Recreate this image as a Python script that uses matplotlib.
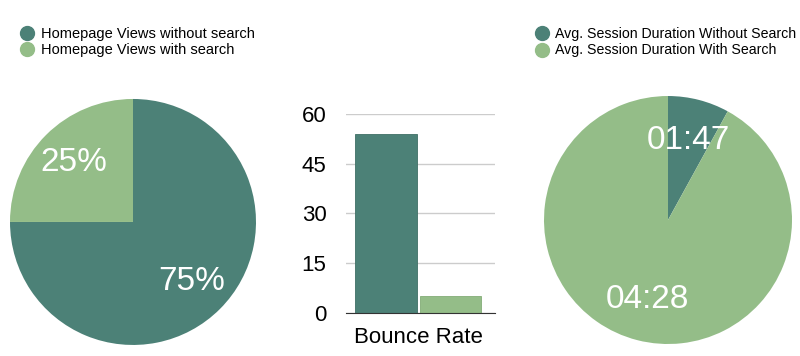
import matplotlib
matplotlib.use("Agg")
import matplotlib.pyplot as plt
from matplotlib.lines import Line2D

plt.rcParams['font.family'] = ['Liberation Sans', 'DejaVu Sans']

dark = '#4c8177'
light = '#94bd88'

# data
views_labels = ['Homepage Views without search', 'Homepage Views with search']
views_share = [75, 25]

bounce_cat = ['Bounce Rate']
bounce_without = [54]
bounce_with = [5]

session_labels = ['Avg. Session Duration Without Search', 'Avg. Session Duration With Search']
session_share = [8, 92]
session_text = ['01:47', '04:28']

fig = plt.figure(figsize=(8, 3.56), dpi=100)

# left pie
ax1 = fig.add_axes([0.0125, 0.031, 0.3075, 0.691])
ax1.pie(views_share, colors=[dark, light], startangle=90, counterclock=False,
        autopct='%d%%', pctdistance=0.68,
        textprops=dict(color='white', fontsize=24))
ax1.set_xlim(-1, 1)
ax1.set_ylim(-1, 1)
ax1.set_aspect('equal')

# bar chart
ax2 = fig.add_axes([0.4325, 0.1208, 0.18625, 0.559])
ax2.bar([-0.21], bounce_without, width=0.4, color=dark, edgecolor='#3f7066', linewidth=0.6)
ax2.bar([0.21], bounce_with, width=0.4, color=light, edgecolor='#83ad77', linewidth=0.6)
ax2.set_xlim(-0.47, 0.5)
ax2.set_ylim(0, 60)
ax2.set_yticks([0, 15, 30, 45, 60])
ax2.set_xticks([0])
ax2.set_xticklabels(bounce_cat)
ax2.yaxis.grid(True, color='#cccccc', linewidth=1)
ax2.set_axisbelow(True)
for s in ['left', 'right', 'top']:
    ax2.spines[s].set_visible(False)
ax2.spines['bottom'].set_color('#333333')
ax2.tick_params(axis='both', length=0, labelsize=16)
ax2.tick_params(axis='y', pad=14)
ax2.tick_params(axis='x', pad=10)

# right pie
ax3 = fig.add_axes([0.68, 0.0337, 0.31, 0.6966])
ax3.pie(session_share, colors=[light if i else dark for i in range(2)], startangle=90,
        counterclock=False, labels=session_text, labeldistance=0.66,
        textprops=dict(color='white', fontsize=24, ha='center', va='center'))
ax3.set_xlim(-1, 1)
ax3.set_ylim(-1, 1)
ax3.set_aspect('equal')

# legends
h1 = [Line2D([], [], marker='o', ls='', color=c, markersize=10) for c in [dark, light]]
fig.legend(h1, views_labels, loc='upper left', bbox_to_anchor=(0.014, 0.945),
           frameon=False, fontsize=10.5, handletextpad=0.35, labelspacing=0.15,
           borderpad=0, handlelength=1.2)
fig.legend(h1, session_labels, loc='upper left', bbox_to_anchor=(0.658, 0.945),
           frameon=False, fontsize=10.2, handletextpad=0.35, labelspacing=0.2,
           borderpad=0, handlelength=1.2)

fig.savefig('out.png', dpi=100)
